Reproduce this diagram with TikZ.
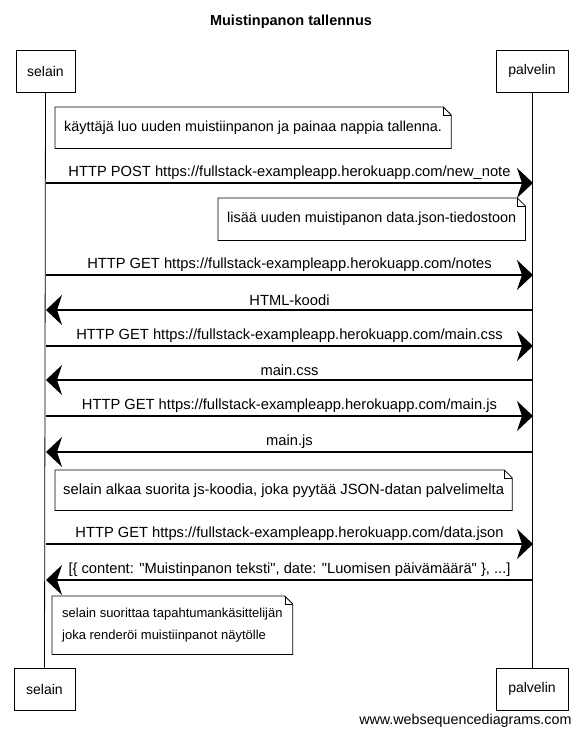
\documentclass[tikz,border=0pt]{standalone}
\usepackage{fontspec}
\setmainfont{Liberation Sans}
\usetikzlibrary{arrows.meta}

\tikzset{
	actor/.style={draw, line width=0.9pt, minimum height=42pt, inner xsep=9pt},
	notebox/.style={anchor=north west, inner xsep=9pt, align=left, font=\fontsize{14.4}{22}\selectfont},
	msg/.style={line width=1.1pt, -{Stealth[length=16pt, width=30pt, inset=5pt]}},
	lifeline/.style={line width=0.8pt}
}

\begin{document}
\begin{tikzpicture}[x=1pt, y=-1pt, font=\fontsize{14.7}{17}\selectfont]
	% Canvas
	\useasboundingbox[fill=white] (0,0) rectangle (582,736);

	% Title
	\node[font=\fontsize{14.5}{16}\selectfont\bfseries] (title) at (291,22) {Muistinpanon tallennus};

	% Participants
	\node[actor, minimum width=59pt, font=\fontsize{14}{16}\selectfont] (selainTop) at (45.5,71) {selain};
	\node[actor, minimum width=72pt, font=\fontsize{14}{16}\selectfont] (palvelinTop) at (532,71) {palvelin};
	\node[actor, minimum width=61pt, font=\fontsize{14}{16}\selectfont] (selainBot) at (44.5,689) {selain};
	\node[actor, minimum width=72pt, font=\fontsize{14}{16}\selectfont] (palvelinBot) at (532,689) {palvelin};

	% Lifelines
	\draw[lifeline] (selainTop.south) -- (selainBot.north);
	\draw[lifeline] (palvelinTop.south) -- (palvelinBot.north);

	% Notes
	\node[notebox, minimum height=41pt] (note1) at (55,107)
		{käyttäjä luo uuden muistiinpanon ja painaa nappia tallenna.};
	\node[notebox, minimum height=42pt] (note2) at (218,198)
		{lisää uuden muistipanon data.json-tiedostoon};
	\node[notebox, minimum height=40pt, font=\fontsize{14.8}{22}\selectfont, inner xsep=8pt] (note3) at (55,470)
		{selain alkaa suorita js-koodia, joka pyytää JSON-datan palvelimelta};
	\node[notebox, minimum height=58pt, font=\fontsize{13}{22}\selectfont, inner xsep=10pt] (note4) at (52,596)
		{selain suorittaa tapahtumankäsittelijän\\joka renderöi muistiinpanot näytölle};
	\foreach \n in {note1,note2,note3,note4} {
		\draw[line width=0.8pt] (\n.south west) -- (\n.north west) -- ([xshift=-8pt]\n.north east)
			-- ([yshift=-8pt]\n.north east) -- (\n.south east) -- cycle;
		\draw[line width=0.6pt] ([xshift=-8pt]\n.north east) -- ([xshift=-8pt, yshift=-8pt]\n.north east)
			-- ([yshift=-8pt]\n.north east);
	}

	% Message end points
	\foreach \k/\y in {1/183, 2/275, 3/310, 4/346, 5/380, 6/416, 7/452, 8/544, 9/580} {
		\coordinate (s\k) at (46,\y);
		\coordinate (p\k) at (533,\y);
	}

	% Messages
	\draw[msg] (s1) -- node[above=0pt] {HTTP POST https://fullstack-exampleapp.herokuapp.com/new\_note} (p1);
	\draw[msg] (s2) -- node[above=0pt] {HTTP GET https://fullstack-exampleapp.herokuapp.com/notes} (p2);
	\draw[msg] (p3) -- node[above=0pt] {HTML-koodi} (s3);
	\draw[msg] (s4) -- node[above=0pt] {HTTP GET https://fullstack-exampleapp.herokuapp.com/main.css} (p4);
	\draw[msg] (p5) -- node[above=0pt] {main.css} (s5);
	\draw[msg] (s6) -- node[above=0pt] {HTTP GET https://fullstack-exampleapp.herokuapp.com/main.js} (p6);
	\draw[msg] (p7) -- node[above=0pt] {main.js} (s7);
	\draw[msg] (s8) -- node[above=0pt] {HTTP GET https://fullstack-exampleapp.herokuapp.com/data.json} (p8);
	\draw[msg] (p9) -- node[above=0pt] {[\{ content: \textquotedbl Muistinpanon teksti\textquotedbl, date: \textquotedbl Luomisen päivämäärä\textquotedbl\ \}, ...]} (s9);

	% Footer
	\node[anchor=east, font=\fontsize{14.3}{16}\selectfont] (footer) at (575,721) {www.websequencediagrams.com};
\end{tikzpicture}
\end{document}
